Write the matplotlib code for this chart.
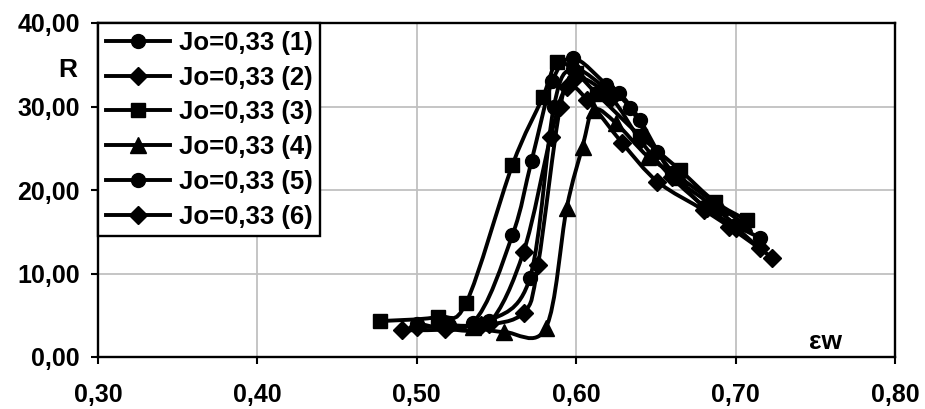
import matplotlib
matplotlib.use("Agg")
import matplotlib.pyplot as plt
from matplotlib.path import Path
from matplotlib.patches import PathPatch
from matplotlib.lines import Line2D
import numpy as np

plt.rcParams['font.family'] = ['Liberation Sans', 'DejaVu Sans']
plt.rcParams['font.weight'] = 'bold'

labels = ["Jo=0,33 (1)", "Jo=0,33 (2)", "Jo=0,33 (3)",
          "Jo=0,33 (4)", "Jo=0,33 (5)", "Jo=0,33 (6)"]

s1_x = [0.500, 0.535, 0.560, 0.572, 0.585, 0.598, 0.619, 0.634, 0.651, 0.680, 0.715]
s1_y = [4.0, 4.1, 14.6, 23.5, 33.0, 35.8, 32.6, 29.8, 24.5, 18.0, 14.3]

s2_x = [0.491, 0.518, 0.545, 0.567, 0.584, 0.594, 0.607, 0.629, 0.651, 0.680, 0.696, 0.723]
s2_y = [3.2, 3.3, 4.0, 12.6, 26.4, 32.3, 30.8, 25.6, 21.0, 17.6, 15.6, 11.9]

s3_x = [0.477, 0.513, 0.531, 0.560, 0.579, 0.588, 0.600, 0.613, 0.640, 0.665, 0.687, 0.707]
s3_y = [4.3, 4.8, 6.5, 23.0, 31.1, 35.3, 34.0, 31.5, 26.5, 22.4, 18.6, 16.4]

s4_x = [0.535, 0.555, 0.581, 0.594, 0.604, 0.611, 0.625, 0.645, 0.665, 0.690, 0.705]
s4_y = [3.6, 3.0, 3.5, 17.8, 25.2, 29.6, 28.0, 24.0, 21.5, 18.0, 16.0]

s5_x = [0.520, 0.545, 0.571, 0.586, 0.598, 0.620, 0.627, 0.640, 0.660, 0.685, 0.700]
s5_y = [3.8, 4.3, 9.5, 30.0, 34.5, 32.0, 31.6, 28.4, 22.0, 18.2, 15.8]

s6_x = [0.500, 0.540, 0.567, 0.576, 0.590, 0.600, 0.622, 0.640, 0.660, 0.682, 0.700, 0.715]
s6_y = [3.6, 3.8, 5.3, 11.0, 30.0, 33.5, 31.0, 26.0, 21.5, 17.8, 15.5, 13.0]

series_x = [s1_x, s2_x, s3_x, s4_x, s5_x, s6_x]
series_y = [s1_y, s2_y, s3_y, s4_y, s5_y, s6_y]
markers = ['o', 'D', 's', '^', 'o', 'D']
msizes = [10, 9, 10, 11, 10, 9]

x_ticks = [0.30, 0.40, 0.50, 0.60, 0.70, 0.80]
y_ticks = [0, 10, 20, 30, 40]


def smooth_path(xs, ys, t=1.0 / 6.0):
    pts = np.column_stack([xs, ys])
    n = len(pts)
    verts = [pts[0]]
    codes = [Path.MOVETO]
    for i in range(n - 1):
        p0 = pts[i - 1] if i > 0 else pts[i]
        p1 = pts[i]
        p2 = pts[i + 1]
        p3 = pts[i + 2] if i + 2 < n else pts[i + 1]
        c1 = p1 + (p2 - p0) * t
        c2 = p2 - (p3 - p1) * t
        verts += [c1, c2, p2]
        codes += [Path.CURVE4] * 3
    return Path(verts, codes)


fig = plt.figure(figsize=(9.25, 4.09), dpi=100)
ax = fig.add_axes([98 / 925, 1 - 357 / 409, 797 / 925, 334 / 409])

ax.set_xlim(0.30, 0.80)
ax.set_ylim(0, 40)
ax.set_xticks(x_ticks)
ax.set_yticks(y_ticks)
ax.set_xticklabels([f"{v:.2f}".replace('.', ',') for v in x_ticks])
ax.set_yticklabels([f"{v:.2f}".replace('.', ',') for v in y_ticks])
ax.grid(True, color='#c0c0c0', linewidth=1.3)
ax.set_axisbelow(True)
for sp in ax.spines.values():
    sp.set_linewidth(1.7)
    sp.set_color('black')
ax.tick_params(axis='x', direction='out', length=5, width=1.5, pad=14, labelsize=18)
ax.tick_params(axis='y', direction='out', length=5, width=1.5, pad=8, labelsize=18)

handles = []
for xs, ys, m, ms, lab in zip(series_x, series_y, markers, msizes, labels):
    patch = PathPatch(smooth_path(xs, ys), facecolor='none', edgecolor='black',
                      linewidth=2.8, capstyle='round', joinstyle='round', zorder=3)
    ax.add_patch(patch)
    ax.plot(xs, ys, linestyle='none', marker=m, markersize=ms, color='black', zorder=4)
    handles.append(Line2D([], [], color='black', linewidth=2.8, marker=m, markersize=ms, label=lab))

leg = ax.legend(handles=handles, loc='upper left', bbox_to_anchor=(0, 1),
                borderaxespad=0, fontsize=18.5, frameon=True, fancybox=False,
                handlelength=2.5, handletextpad=0.35, labelspacing=0.42,
                borderpad=0.3)
leg.get_frame().set_edgecolor('black')
leg.get_frame().set_linewidth(1.7)
leg.get_frame().set_alpha(1)
for t in leg.get_texts():
    t.set_fontweight('bold')

fig.text(68 / 925, 1 - 70 / 409, "R", fontsize=19, fontweight='bold', ha='center', va='center')
fig.text(825 / 925, 1 - 342 / 409, "εw", fontsize=19, fontweight='bold', ha='center', va='center')

fig.savefig("out.png", dpi=100)
